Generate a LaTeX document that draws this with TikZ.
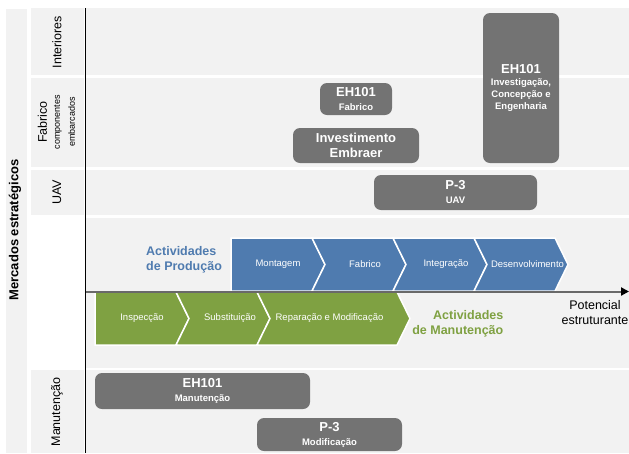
\documentclass[tikz,border=0pt]{standalone}
\usepackage{fontspec}
\setmainfont{Liberation Sans}
\usetikzlibrary{arrows.meta}

\definecolor{bandgray}{RGB}{242,242,242}
\definecolor{prodblue}{RGB}{79,123,175}
\definecolor{mantgreen}{RGB}{127,161,66}
\definecolor{boxgray}{RGB}{115,115,115}
\definecolor{axisgray}{RGB}{105,105,105}

\tikzset{
  bandfill/.style={fill=bandgray, draw=none},
  chevblue/.style={fill=prodblue, draw=white, line width=1.5pt, line join=miter},
  chevgreen/.style={fill=mantgreen, draw=white, line width=1.5pt, line join=miter},
  chevtext/.style={text=white, inner sep=0pt, font=\fontsize{9.5}{11}\selectfont},
  projbox/.style={fill=boxgray, draw=none, rounded corners=7pt, text=white,
    align=center, inner sep=0pt, font=\fontsize{9.5}{14}\selectfont\bfseries},
  rowlabel/.style={rotate=90, inner sep=0pt, align=center,
    font=\fontsize{12.5}{14}\selectfont},
  activity/.style={inner sep=0pt, font=\fontsize{12.5}{15}\selectfont\bfseries},
  axisline/.style={draw=axisgray, line width=2pt,
    -{Triangle[length=8pt,width=8pt,color=black]}},
}

\newcommand{\bigline}[1]{{\fontsize{13}{14}\selectfont #1}}

\begin{document}
\begin{tikzpicture}[x=1pt,y=-1pt]
  \useasboundingbox (0,0) rectangle (629,453);
  \fill[white] (0,0) rectangle (629,453);

  % outer column for the vertical title
  \fill[bandfill] (6,9) rectangle (27,453);

  % row label bands
  \fill[bandfill] (31,8)   rectangle (84,75);
  \fill[bandfill] (31,77.5) rectangle (84,167);
  \fill[bandfill] (31,169.5) rectangle (84,215);
  \fill[bandfill] (31,370) rectangle (84,453);

  % main area bands
  \fill[bandfill] (86,8)   rectangle (629,75);
  \fill[bandfill] (86,77.5) rectangle (629,167);
  \fill[bandfill] (86,169.5) rectangle (629,215);
  \fill[bandfill] (86,217.5) rectangle (629,367.5);
  \fill[bandfill] (86,370) rectangle (629,453);

  % production chain (blue chevrons)
  \draw[chevblue] (231,238) -- (312,238) -- (325,264.5) -- (312,291) -- (231,291) -- cycle;
  \draw[chevblue] (312,238) -- (393,238) -- (406,264.5) -- (393,291) -- (312,291) -- (325,264.5) -- cycle;
  \draw[chevblue] (393,238) -- (474,238) -- (487,264.5) -- (474,291) -- (393,291) -- (406,264.5) -- cycle;
  \draw[chevblue] (474,238) -- (555,238) -- (568,264.5) -- (555,291) -- (474,291) -- (487,264.5) -- cycle;
  \node[chevtext] (montagem) at (278,264.5) {Montagem};
  \node[chevtext] (fabrico)  at (365,264.5) {Fabrico};
  \node[chevtext] (integr)   at (446,264.5) {Integração};
  \node[chevtext] (desenv)   at (527.5,264.5) {Desenvolvimento};

  % maintenance chain (green chevrons)
  \draw[chevgreen] (95,292) -- (176,292) -- (189,318.5) -- (176,345) -- (95,345) -- cycle;
  \draw[chevgreen] (176,292) -- (257,292) -- (270,318.5) -- (257,345) -- (176,345) -- (189,318.5) -- cycle;
  \draw[chevgreen] (257,292) -- (397,292) -- (410,318.5) -- (397,345) -- (257,345) -- (270,318.5) -- cycle;
  \node[chevtext] (inspec) at (142,318.5) {Inspecção};
  \node[chevtext] (subst)  at (230,318.5) {Substituição};
  \node[chevtext] (repar)  at (329.5,318.5) {Reparação e Modificação};

  % axes
  \coordinate (axisO) at (85,291.5);
  \coordinate (axisE) at (629,291.5);
  \coordinate (vtop) at (85,8);
  \coordinate (vbot) at (85,453);
  \draw[axisline] (axisO) -- (axisE);
  \draw[black, line width=1pt] (vtop) -- (vbot);

  % activity captions
  \node[activity, text=prodblue, anchor=north west, align=left] (prodcap) at (146,246)
    {Actividades\\de Produção};
  \node[activity, text=mantgreen, anchor=north east, align=right] (mantcap) at (503.5,310.5)
    {Actividades\\de Manutenção};
  \node[inner sep=0pt, anchor=north, align=center, font=\fontsize{12.5}{15}\selectfont] (potcap) at (595,300.5)
    {Potencial\\estruturante};

  % project boxes
  \node[projbox, minimum width=72pt, minimum height=32pt] (ehfab) at (356,99)
    {\bigline{EH101}\\Fabrico};
  \node[projbox, minimum width=126pt, minimum height=35pt, font=\fontsize{13}{15}\selectfont\bfseries]
    (embraer) at (356,145.5) {Investimento\\Embraer};
  \node[projbox, minimum width=76pt, minimum height=150pt, font=\fontsize{9.5}{12.3}\selectfont\bfseries]
    (ehinv) at (521,88) {\bigline{EH101}\\Investigação,\\Concepção e\\Engenharia};
  \node[projbox, minimum width=163pt, minimum height=35pt] (p3uav) at (455.5,192.5)
    {\bigline{P-3}\\UAV};
  \node[projbox, minimum width=215pt, minimum height=36pt] (ehman) at (202.5,391)
    {\bigline{EH101}\\Manutenção};
  \node[projbox, minimum width=145pt, minimum height=33pt] (p3mod) at (329.5,434.5)
    {\bigline{P-3}\\Modificação};

  % row labels
  \node[rowlabel] (lint) at (57,42) {Interiores};
  \node[rowlabel] (lfab) at (56.5,122)
    {Fabrico\\[-1pt]{\fontsize{9}{11}\selectfont componentes}\\[1pt]{\fontsize{9}{11}\selectfont embarcados}};
  \node[rowlabel] (luav) at (57,192.5) {UAV};
  \node[rowlabel] (lman) at (57,412) {Manutenção};

  % vertical title
  \node[rotate=90, inner sep=0pt, font=\fontsize{13}{15}\selectfont\bfseries] (title) at (15,230)
    {Mercados estratégicos};
\end{tikzpicture}
\end{document}
